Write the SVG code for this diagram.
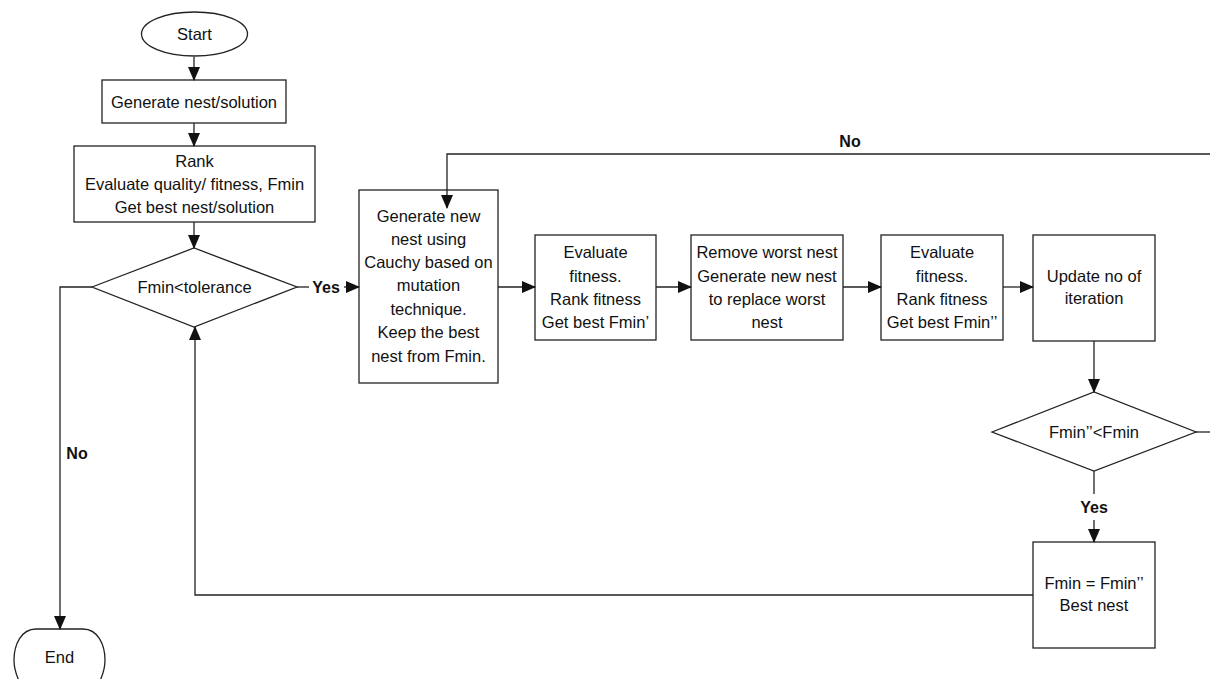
<svg xmlns="http://www.w3.org/2000/svg" width="1210" height="679" viewBox="0 0 1210 679">
<defs>
<style>
.s{fill:#fff;stroke:#222;stroke-width:1.3}
.c{fill:none;stroke:#222;stroke-width:1.3}
.t{font-family:"Liberation Sans",Arial,sans-serif;font-size:16.5px;fill:#111;text-anchor:middle}
.b{font-family:"Liberation Sans",Arial,sans-serif;font-size:16px;font-weight:bold;fill:#111;text-anchor:middle}
</style>
<marker id="a" markerWidth="14" markerHeight="12" refX="13" refY="6" orient="auto" markerUnits="userSpaceOnUse">
<path d="M0,0 L14,6 L0,12 Z" fill="#111"/>
</marker>
</defs>
<rect width="1210" height="679" fill="#fff"/>
<g id="start">
<ellipse class="s" cx="194.5" cy="34" rx="53" ry="22"/>
<text class="t" x="194.5" y="40">Start</text>
</g>
<g id="generate">
<rect class="s" x="102" y="80" width="184" height="43"/>
<text class="t" x="194" y="108">Generate nest/solution</text>
</g>
<g id="rank">
<rect class="s" x="74" y="146" width="241" height="76"/>
<text class="t" x="194.5" y="167">Rank</text>
<text class="t" x="194.5" y="190">Evaluate quality/ fitness, Fmin</text>
<text class="t" x="194.5" y="213">Get best nest/solution</text>
</g>
<g id="decision1">
<polygon class="s" points="92,287 194,248 297,287 194,327"/>
<text class="t" x="194.5" y="293">Fmin&lt;tolerance</text>
</g>
<g id="end">
<path class="s" d="M36,629 L83,629 C98,629 105,645 105,660 C105,672 100,682 95,690 L24,690 C19,682 14,672 14,660 C14,645 21,629 36,629 Z"/>
<text class="t" x="59.5" y="663">End</text>
</g>
<g id="cauchy">
<rect class="s" x="359" y="190" width="139" height="193"/>
<text class="t" x="428.5" y="222">Generate new</text>
<text class="t" x="428.5" y="245">nest using</text>
<text class="t" x="428.5" y="268">Cauchy based on</text>
<text class="t" x="428.5" y="291">mutation</text>
<text class="t" x="428.5" y="315">technique.</text>
<text class="t" x="428.5" y="338">Keep the best</text>
<text class="t" x="428.5" y="362">nest from Fmin.</text>
</g>
<g id="eval1">
<rect class="s" x="535" y="235" width="121" height="105"/>
<text class="t" x="595.5" y="258">Evaluate</text>
<text class="t" x="595.5" y="282">fitness.</text>
<text class="t" x="595.5" y="305">Rank fitness</text>
<text class="t" x="595.5" y="328">Get best Fmin’</text>
</g>
<g id="remove">
<rect class="s" x="691" y="235" width="152" height="105"/>
<text class="t" x="767" y="258">Remove worst nest</text>
<text class="t" x="767" y="282">Generate new nest</text>
<text class="t" x="767" y="305">to replace worst</text>
<text class="t" x="767" y="328">nest</text>
</g>
<g id="eval2">
<rect class="s" x="881" y="235" width="122" height="105"/>
<text class="t" x="942" y="258">Evaluate</text>
<text class="t" x="942" y="282">fitness.</text>
<text class="t" x="942" y="305">Rank fitness</text>
<text class="t" x="942" y="328">Get best Fmin’’</text>
</g>
<g id="update">
<rect class="s" x="1033" y="235" width="122" height="106"/>
<text class="t" x="1094" y="282">Update no of</text>
<text class="t" x="1094" y="304">iteration</text>
</g>
<g id="decision2">
<polygon class="s" points="992,432 1094,392 1196,432 1094,471"/>
<text class="t" x="1094" y="438">Fmin’’&lt;Fmin</text>
</g>
<g id="best">
<rect class="s" x="1033" y="542" width="122" height="106"/>
<text class="t" x="1094" y="589">Fmin = Fmin’’</text>
<text class="t" x="1094" y="611">Best nest</text>
</g>
<g id="connectors">
<line class="c" x1="194" y1="57" x2="194" y2="80" marker-end="url(#a)"/>
<line class="c" x1="194" y1="123" x2="194" y2="146" marker-end="url(#a)"/>
<line class="c" x1="194" y1="222" x2="194" y2="248" marker-end="url(#a)"/>
<line class="c" x1="297" y1="287" x2="309" y2="287"/>
<line class="c" x1="344" y1="287" x2="359" y2="287" marker-end="url(#a)"/>
<polyline class="c" points="92,287 60,287 60,629" marker-end="url(#a)"/>
<polyline class="c" points="1033,595 195,595 195,327" marker-end="url(#a)"/>
<polyline class="c" points="1210,154 447,154 447,208" marker-end="url(#a)"/>
<line class="c" x1="498" y1="287" x2="535" y2="287" marker-end="url(#a)"/>
<line class="c" x1="656" y1="287" x2="691" y2="287" marker-end="url(#a)"/>
<line class="c" x1="843" y1="287" x2="881" y2="287" marker-end="url(#a)"/>
<line class="c" x1="1003" y1="287" x2="1033" y2="287" marker-end="url(#a)"/>
<line class="c" x1="1094" y1="341" x2="1094" y2="392" marker-end="url(#a)"/>
<line class="c" x1="1196" y1="432" x2="1210" y2="432"/>
<line class="c" x1="1094" y1="471" x2="1094" y2="494"/>
<line class="c" x1="1094" y1="520" x2="1094" y2="542" marker-end="url(#a)"/>
<text class="b" x="326" y="293">Yes</text>
<text class="b" x="77" y="459">No</text>
<text class="b" x="850" y="147">No</text>
<text class="b" x="1094" y="513">Yes</text>
</g>
</svg>
